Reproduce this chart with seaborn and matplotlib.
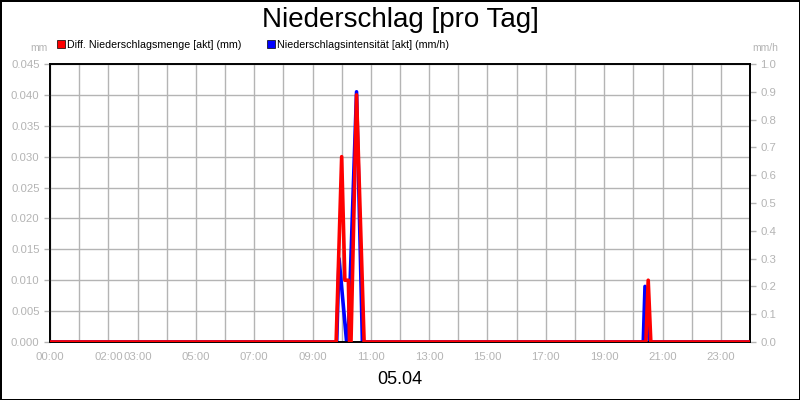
import numpy as np
import pandas as pd
import matplotlib
matplotlib.use("Agg")
import matplotlib.pyplot as plt
from matplotlib.lines import Line2D
import seaborn as sns

# hours of day and values
menge_h = [0.0, 9.81, 10.0, 10.11, 10.23, 10.27, 10.32, 10.51, 10.77,
           20.43, 20.51, 20.6, 24.0]
menge_mm = [0.0, 0.0, 0.030, 0.010, 0.010, 0.0, 0.0, 0.040, 0.0,
            0.0, 0.010, 0.0, 0.0]
intens_h = [0.0, 9.83, 9.91, 10.17, 10.22, 10.51, 10.71,
            20.34, 20.4, 20.55, 24.0]
intens_mmh = [0.0, 0.0, 0.3, 0.0, 0.0, 0.9, 0.0,
              0.0, 0.2, 0.0, 0.0]

hour_ticks = list(range(25))
shown = [0, 2, 3, 5, 7, 9, 11, 13, 15, 17, 19, 21, 23]
tick_labels = ["%02d:00" % h if h in shown else "" for h in hour_ticks]

left_ticks = np.arange(0, 0.0451, 0.005)
right_ticks = np.arange(0, 1.01, 0.1)

sns.set_style("white")
plt.rcParams["font.family"] = ["Liberation Sans", "DejaVu Sans"]
plt.rcParams["text.color"] = "black"

grey = "#b4b4b4"

fig = plt.figure(figsize=(8, 4), dpi=100)
fig.patch.set_edgecolor("black")
fig.patch.set_linewidth(2)
ax = fig.add_axes([0.0625, 0.145, 0.875, 0.695])
ax2 = ax.twinx()

df1 = pd.DataFrame({"h": menge_h, "v": menge_mm})
df2 = pd.DataFrame({"h": intens_h, "v": intens_mmh})

ax2.set_zorder(1)
ax.set_zorder(2)
ax.patch.set_visible(False)
sns.lineplot(data=df2, x="h", y="v", ax=ax2, color="#0000ff", linewidth=2.6, zorder=3)
sns.lineplot(data=df1, x="h", y="v", ax=ax, color="#ff0000", linewidth=2.6, zorder=4)

ax.set_xlim(0, 24)
ax2.set_xlim(0, 24)
ax.set_ylim(0, 0.045)
ax2.set_ylim(0, 1.0)
ax.set_xticks(hour_ticks)
ax.set_xticklabels(tick_labels)
ax.set_yticks(left_ticks)
ax.set_yticklabels(["%.3f" % t for t in left_ticks])
ax2.set_yticks(right_ticks)
ax2.set_yticklabels(["%.1f" % t for t in right_ticks])
ax.set_xlabel("")
ax.set_ylabel("")
ax2.set_ylabel("")
ax.grid(False)
ax2.grid(False)

for a in (ax, ax2):
    for s in a.spines.values():
        s.set_color("black")
        s.set_linewidth(1.2)
        s.set_visible(True)
    a.tick_params(colors=grey, labelsize=8.2, length=4, width=1)

# grid sits on the back axes so both lines stay above it
for h in hour_ticks:
    ax2.axvline(h, color=grey, linewidth=1, zorder=0)
for t in left_ticks:
    ax2.axhline(t / 0.045, color=grey, linewidth=1, zorder=0)

fig.text(0.06, 0.872, "mm", color=grey, fontsize=7.5, ha="right")
fig.text(0.957, 0.872, "mm/h", color=grey, fontsize=7.5, ha="center")
fig.text(0.5, 0.95, "Niederschlag [pro Tag]", fontsize=20, ha="center", va="center",
         color="black")
fig.text(0.5, 0.05, "05.04", fontsize=13, ha="center", va="center", color="black")

handles = [Line2D([], [], marker="s", linestyle="", markersize=6, markerfacecolor="#ff0000",
                  markeredgecolor="black", markeredgewidth=0.5),
           Line2D([], [], marker="s", linestyle="", markersize=6, markerfacecolor="#0000ff",
                  markeredgecolor="black", markeredgewidth=0.5)]
leg = fig.legend(handles, ["Diff. Niederschlagsmenge [akt] (mm)", "Niederschlagsintensität [akt] (mm/h)"],
                 loc="center left", bbox_to_anchor=(0.07, 0.888), ncol=2, frameon=False,
                 fontsize=7.7, handletextpad=0.15, columnspacing=2.3, handlelength=0.9,
                 borderpad=0, borderaxespad=0)
for t in leg.get_texts():
    t.set_color("black")

fig.savefig("out.png", dpi=100)
